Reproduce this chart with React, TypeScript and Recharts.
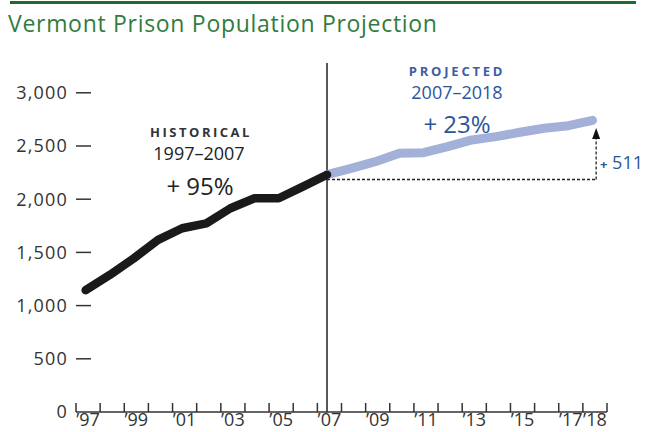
import { LineChart, Line, XAxis, YAxis, ReferenceLine } from "recharts";

const years = [
  1997, 1998, 1999, 2000, 2001, 2002, 2003, 2004, 2005, 2006, 2007,
  2008, 2009, 2010, 2011, 2012, 2013, 2014, 2015, 2016, 2017, 2018,
];
const historical = [1145, 1288, 1445, 1617, 1727, 1773, 1915, 2009, 2009, 2118, 2230];
const projected = [2230, 2290, 2353, 2432, 2437, 2494, 2557, 2588, 2629, 2667, 2691, 2741];
const yTicks = [0, 500, 1000, 1500, 2000, 2500, 3000];
const labelYears = [1997, 1999, 2001, 2003, 2005, 2007, 2009, 2011, 2013, 2015, 2017, 2018];
const dashBase = 2185;
const arrowTop = 2670;
const arrowYear = 2018.15;

const data = years.map((year, i) => ({
  year,
  hist: i < historical.length ? historical[i] : undefined,
  proj: i >= historical.length - 1 ? projected[i - (historical.length - 1)] : undefined,
}));

// tick marks sit between the years, labels go in the middle of each slot
const boundaries = [...years.map((y) => y - 0.4), years[years.length - 1] + 0.6];

const W = 651;
const H = 432;
const MARGIN = { top: 63, right: 44, bottom: 0, left: 0 };
const Y_WIDTH = 76;
const SLOT = (W - MARGIN.left - MARGIN.right - Y_WIDTH) / years.length;

const FONT = "'Open Sans', sans-serif";
const BLUE = "#2c5499";

function XTick({ x, y, payload }: any) {
  const year = Math.round(payload.value + 0.4);
  if (!labelYears.includes(year) || payload.value > years[years.length - 1]) return <g />;
  return (
    <text
      x={x + SLOT / 2}
      y={y - 8}
      dy="0.71em"
      textAnchor="middle"
      fontSize={18}
      fill="#333"
      fontFamily={FONT}
    >
      {"\u2019" + String(year).slice(2)}
    </text>
  );
}

function YTick({ x, y, payload }: any) {
  return (
    <g>
      <text
        x={x}
        y={y}
        dy="0.36em"
        textAnchor="end"
        fontSize={18}
        letterSpacing={1.2}
        fill="#333"
        fontFamily={FONT}
      >
        {payload.value.toLocaleString("en-US")}
      </text>
      {payload.value > 0 && (
        <line x1={x + 8} x2={x + 23} y1={y} y2={y} stroke="#333" strokeWidth={1.5} />
      )}
    </g>
  );
}

function ArrowShape(p: any) {
  return (
    <g>
      <line x1={p.x1} y1={p.y1} x2={p.x2} y2={p.y2 + 8} stroke="#222" strokeWidth={1.3} strokeDasharray="3 2" />
      <polygon
        points={`${p.x2},${p.y2} ${p.x2 - 4},${p.y2 + 11} ${p.x2 + 4},${p.y2 + 11}`}
        fill="#111"
      />
    </g>
  );
}

function Note({ cx, cy, size, color, bold, spacing, children, left }: any) {
  const h = Math.round(size * 1.3);
  return (
    <div
      style={{
        position: "absolute",
        left: left ?? cx - 100,
        width: left ? undefined : 200,
        top: cy - h / 2,
        lineHeight: `${h}px`,
        fontSize: size,
        fontWeight: bold ? 700 : 400,
        letterSpacing: spacing ?? 0,
        color,
        textAlign: left ? "left" : "center",
        fontFamily: FONT,
        whiteSpace: "nowrap",
      }}
    >
      {children}
    </div>
  );
}

export default function App() {
  return (
    <div style={{ position: "absolute", left: 0, top: 0, width: W, height: H, background: "#fff", overflow: "hidden" }}>
      <div style={{ position: "absolute", left: 10, top: 1, width: 626, height: 3, background: "#1e6b2f" }} />
      <div
        style={{
          position: "absolute",
          left: 8,
          top: 8,
          fontSize: 23,
          letterSpacing: 0.7,
          lineHeight: "30px",
          color: "#2f7d3d",
          fontFamily: FONT,
          whiteSpace: "nowrap",
        }}
      >
        Vermont Prison Population Projection
      </div>

      <LineChart
        width={W}
        height={H}
        data={data}
        margin={MARGIN}
        style={{ position: "absolute", left: 0, top: 0 }}
      >
        <XAxis
          dataKey="year"
          type="number"
          domain={[1996.6, 2018.6]}
          allowDataOverflow
          ticks={boundaries}
          interval={0}
          height={20}
          tickSize={9}
          tickMargin={0}
          tickLine={{ transform: "translate(0,-9)", stroke: "#333", strokeWidth: 1.5 }}
          tick={<XTick />}
          stroke="#333"
          strokeWidth={1.5}
        />
        <YAxis
          type="number"
          domain={[0, 3280]}
          allowDataOverflow
          ticks={yTicks}
          interval={0}
          width={Y_WIDTH}
          axisLine={false}
          tickLine={false}
          tick={<YTick />}
        />
        <ReferenceLine x={2007} stroke="#222" strokeWidth={1.5} />
        <ReferenceLine
          segment={[{ x: 2007, y: dashBase }, { x: arrowYear, y: dashBase }]}
          stroke="#222"
          strokeWidth={1.3}
          strokeDasharray="3 2"
        />
        <ReferenceLine
          segment={[{ x: arrowYear, y: dashBase }, { x: arrowYear, y: arrowTop }]}
          shape={ArrowShape}
        />
        <Line
          dataKey="proj"
          stroke="#a3b1d8"
          strokeWidth={9}
          strokeLinecap="round"
          strokeLinejoin="round"
          dot={false}
          isAnimationActive={false}
        />
        <Line
          dataKey="hist"
          stroke="#1a1a1a"
          strokeWidth={8.5}
          strokeLinecap="round"
          strokeLinejoin="round"
          dot={false}
          isAnimationActive={false}
        />
      </LineChart>

      <Note cx={201} cy={132} size={13} bold spacing={2.5} color="#333">HISTORICAL</Note>
      <Note cx={199} cy={153} size={18} color="#222">1997–2007</Note>
      <Note cx={200} cy={185} size={24} color="#222">+ 95%</Note>
      <Note cx={457} cy={71} size={13} bold spacing={2.8} color="#3a5ea8">PROJECTED</Note>
      <Note cx={457} cy={92} size={18} color={BLUE}>2007–2018</Note>
      <Note cx={457} cy={123} size={24} color={BLUE}>+ 23%</Note>
      <Note left={600} cy={162} size={18} color={BLUE}>
        <span style={{ fontSize: 13, fontWeight: 700 }}>+</span> 511
      </Note>
    </div>
  );
}
